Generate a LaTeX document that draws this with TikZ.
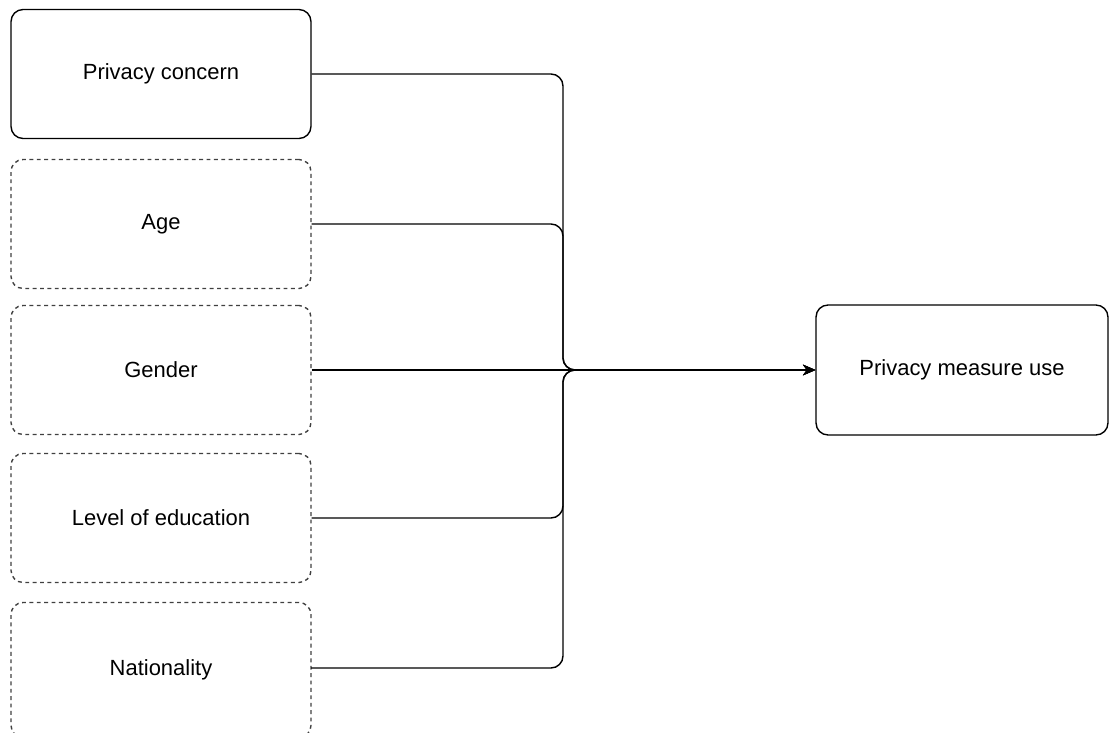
\documentclass[tikz,border=0pt]{standalone}
\usepackage{fontspec}
\setmainfont{Liberation Sans}
\usetikzlibrary{arrows.meta}
\tikzset{
  factor/.style={draw, rounded corners=0.24cm, minimum width=6cm, minimum height=2.58cm,
    inner sep=0pt, font=\fontsize{12.5}{15}\selectfont, line width=0.8pt},
  control/.style={factor, draw=black!75, dash pattern=on 2.2pt off 2pt},
  link/.style={line width=0.8pt, rounded corners=0.24cm, ->}
}
\begin{document}
\begin{tikzpicture}[x=0.02cm, y=-0.02cm, >={Stealth[length=7pt,width=6pt]}]
  \useasboundingbox (0,0) rectangle (1110,733);
  % left column
  \node[factor]  (concern) at (161,74)  {Privacy concern};
  \node[control] (age)     at (161,224) {Age};
  \node[control] (gender)  at (161,370) {Gender};
  \node[control] (edu)     at (161,518) {Level of education};
  \node[control, minimum height=2.7cm] (nation) at (161,670) {Nationality};
  % outcome
  \node[factor, minimum width=5.84cm, minimum height=2.6cm] (use) at (962,370) {Privacy measure use};
  % bus
  \coordinate (bus) at (563,370);
  \coordinate (nat) at (311,668);
  \draw[link] (concern.east) -- (concern.east -| bus) -- (bus) -- (use.west);
  \draw[link] (age.east) -- (age.east -| bus) -- (bus) -- (use.west);
  \draw[link] (gender.east) -- (use.west);
  \draw[link] (edu.east) -- (edu.east -| bus) -- (bus) -- (use.west);
  \draw[link] (nat) -- (nat -| bus) -- (bus) -- (use.west);
\end{tikzpicture}
\end{document}
